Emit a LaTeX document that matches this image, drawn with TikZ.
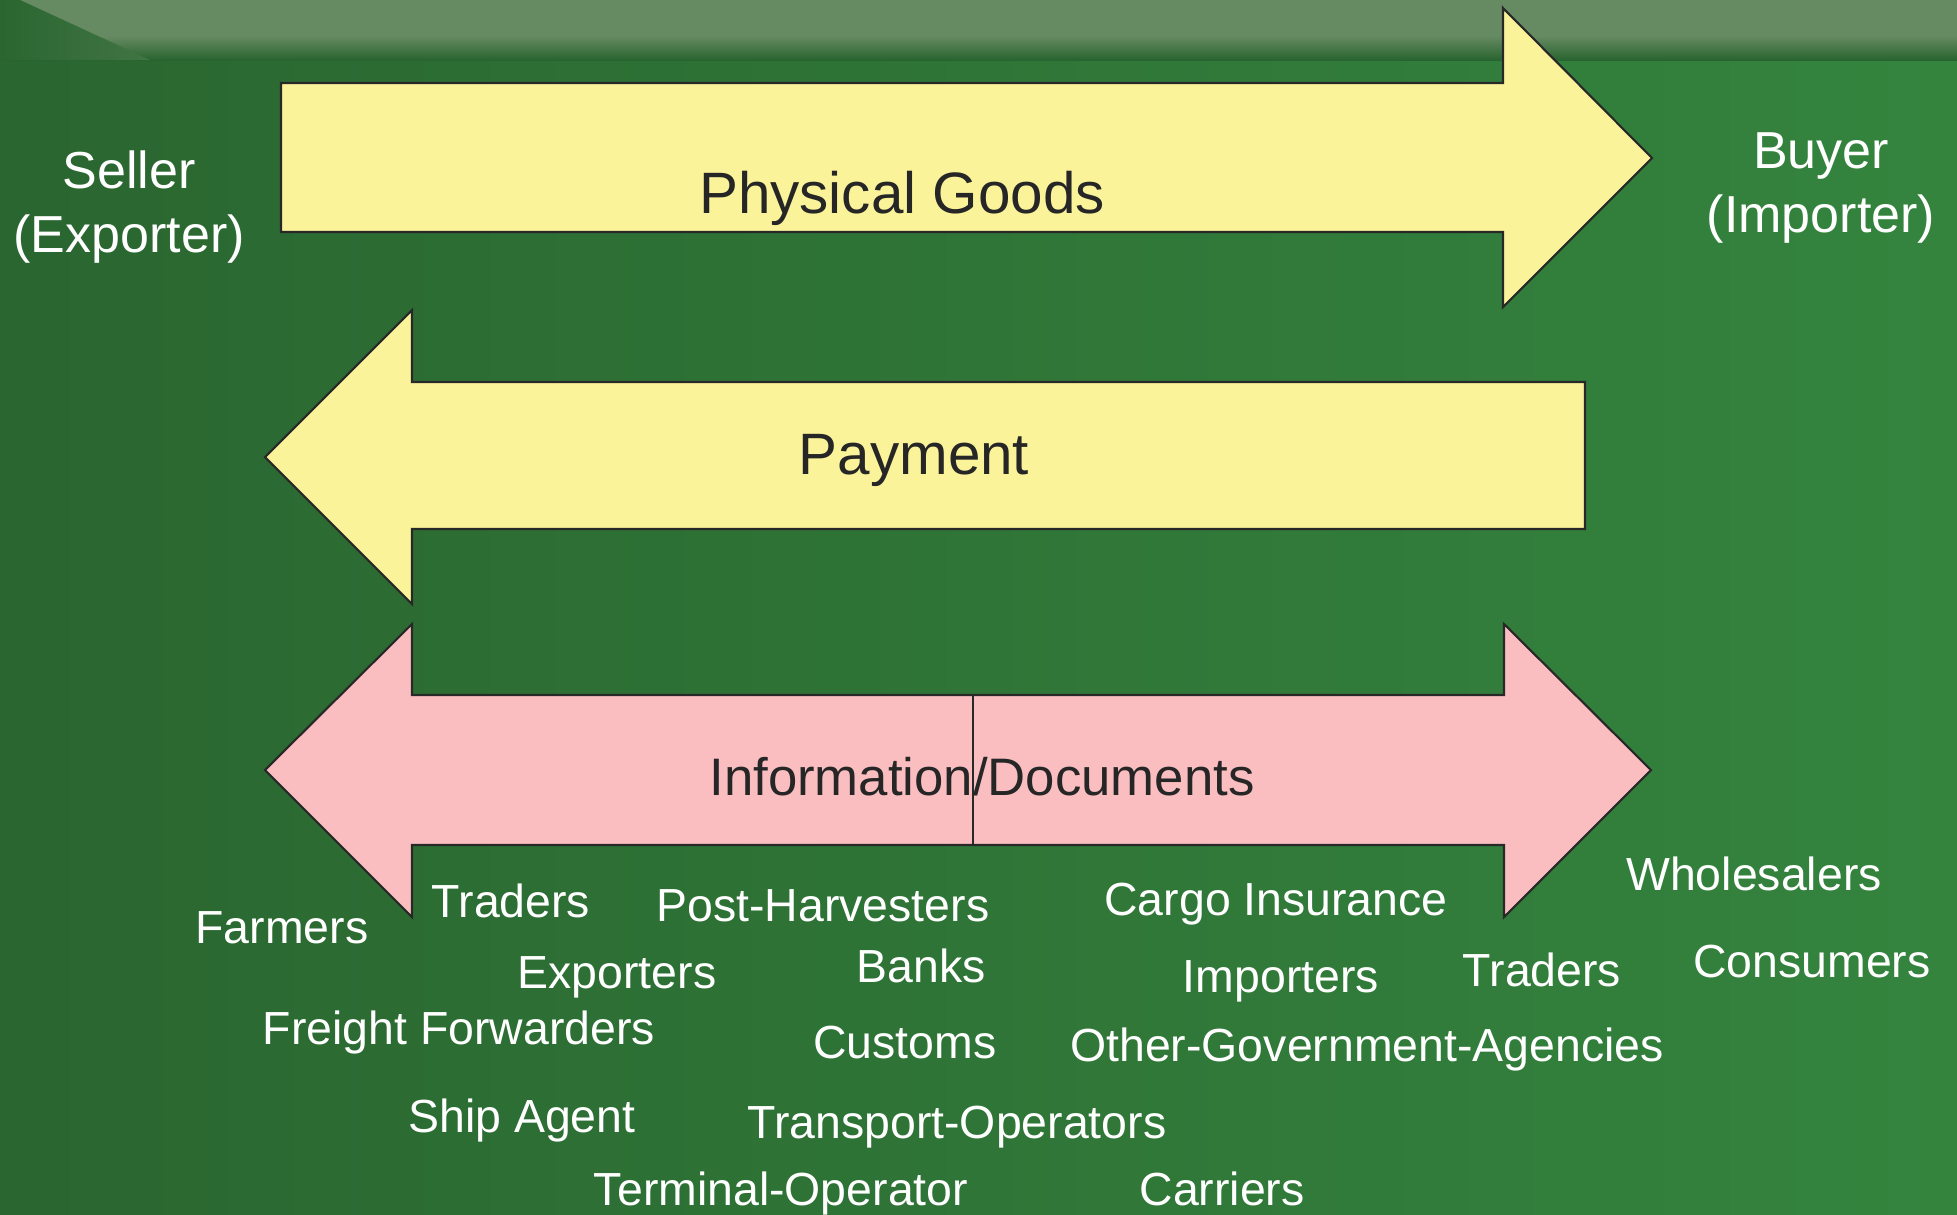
\documentclass[tikz,border=0pt]{standalone}
\usepackage{fontspec}
\setmainfont{Liberation Sans}

\definecolor{grass}{RGB}{47,118,56}
\definecolor{grassdark}{RGB}{42,102,48}
\definecolor{grasslight}{RGB}{52,132,62}
\definecolor{sky}{RGB}{102,138,98}
\definecolor{goodsyellow}{RGB}{251,243,154}
\definecolor{docpink}{RGB}{250,190,192}
\definecolor{edge}{RGB}{40,40,40}

\begin{document}
\begin{tikzpicture}[x=0.01cm,y=-0.01cm,
        flow/.style={draw=edge,line width=0.6pt,line join=miter},
        bigtext/.style={text=black!85,font=\fontsize{16.6}{20}\selectfont,inner sep=0pt,text height=11.9pt,text depth=0pt},
        infotext/.style={text=black!85,font=\fontsize{15}{18}\selectfont,inner sep=0pt,text height=10.7pt,text depth=0pt},
        side/.style={text=white,font=\fontsize{14.8}{18}\selectfont,align=center,inner sep=0pt},
        party/.style={text=white,font=\fontsize{13.2}{15}\selectfont,inner sep=0pt,text height=9.5pt,text depth=0pt}]

    % background: grass field under a hazy sky
    \useasboundingbox (0,0) rectangle (1957,1214);
    \fill[grass] (0,0) rectangle (1957,1214);
    \shade[left color=grassdark,right color=grasslight] (0,58) rectangle (1957,1214);
    \fill[sky] (0,0) rectangle (1957,36);
    \shade[top color=sky,bottom color=grass!85!black] (0,36) rectangle (1957,60);
    \shade[left color=grassdark,right color=grassdark!60!sky] (0,0) -- (20,0) -- (150,60) -- (0,60) -- cycle;

    % flows
    \draw[flow,fill=goodsyellow] (281,83) -- (1503,83) -- (1503,8) -- (1652,158)
        -- (1503,307) -- (1503,232) -- (281,232) -- cycle;
    \draw[flow,fill=goodsyellow] (1585,382) -- (412,382) -- (412,310) -- (265,457)
        -- (412,604) -- (412,529) -- (1585,529) -- cycle;
    \draw[flow,fill=docpink] (412,695) -- (1504,695) -- (1504,624) -- (1651,770)
        -- (1504,917) -- (1504,845) -- (412,845) -- (412,917) -- (265,770) -- (412,624) -- cycle;
    \draw[flow] (973,695) -- (973,845);

    \node[bigtext] (goods) at (902,193) {Physical Goods};
    \node[bigtext] (payment) at (914,454) {Payment};
    \node[infotext] (info) at (982,777) {Information/Documents};

    \node[side] (seller) at (129,207) {Seller\\(Exporter)};
    \node[side] (buyer) at (1821,188) {Buyer\\(Importer)};

    % parties involved
    \node[party] (farmers) at (282,927) {Farmers};
    \node[party] (traders1) at (511,901) {Traders};
    \node[party] (postharv) at (823,905) {Post-Harvesters};
    \node[party] (exporters) at (617,972) {Exporters};
    \node[party] (banks) at (921,966) {Banks};
    \node[party] (forwarders) at (459,1028) {Freight Forwarders};
    \node[party] (customs) at (905,1042) {Customs};
    \node[party] (shipagent) at (522,1116) {Ship Agent};
    \node[party] (transport) at (957,1122) {Transport-Operators};
    \node[party] (terminal) at (781,1189) {Terminal-Operator};
    \node[party] (carriers) at (1222,1189) {Carriers};
    \node[party] (insurance) at (1276,899) {Cargo Insurance};
    \node[party] (importers) at (1281,976) {Importers};
    \node[party] (oga) at (1367,1045) {Other-Government-Agencies};
    \node[party] (traders2) at (1542,970) {Traders};
    \node[party] (wholesalers) at (1754,874) {Wholesalers};
    \node[party] (consumers) at (1812,961) {Consumers};
\end{tikzpicture}
\end{document}
